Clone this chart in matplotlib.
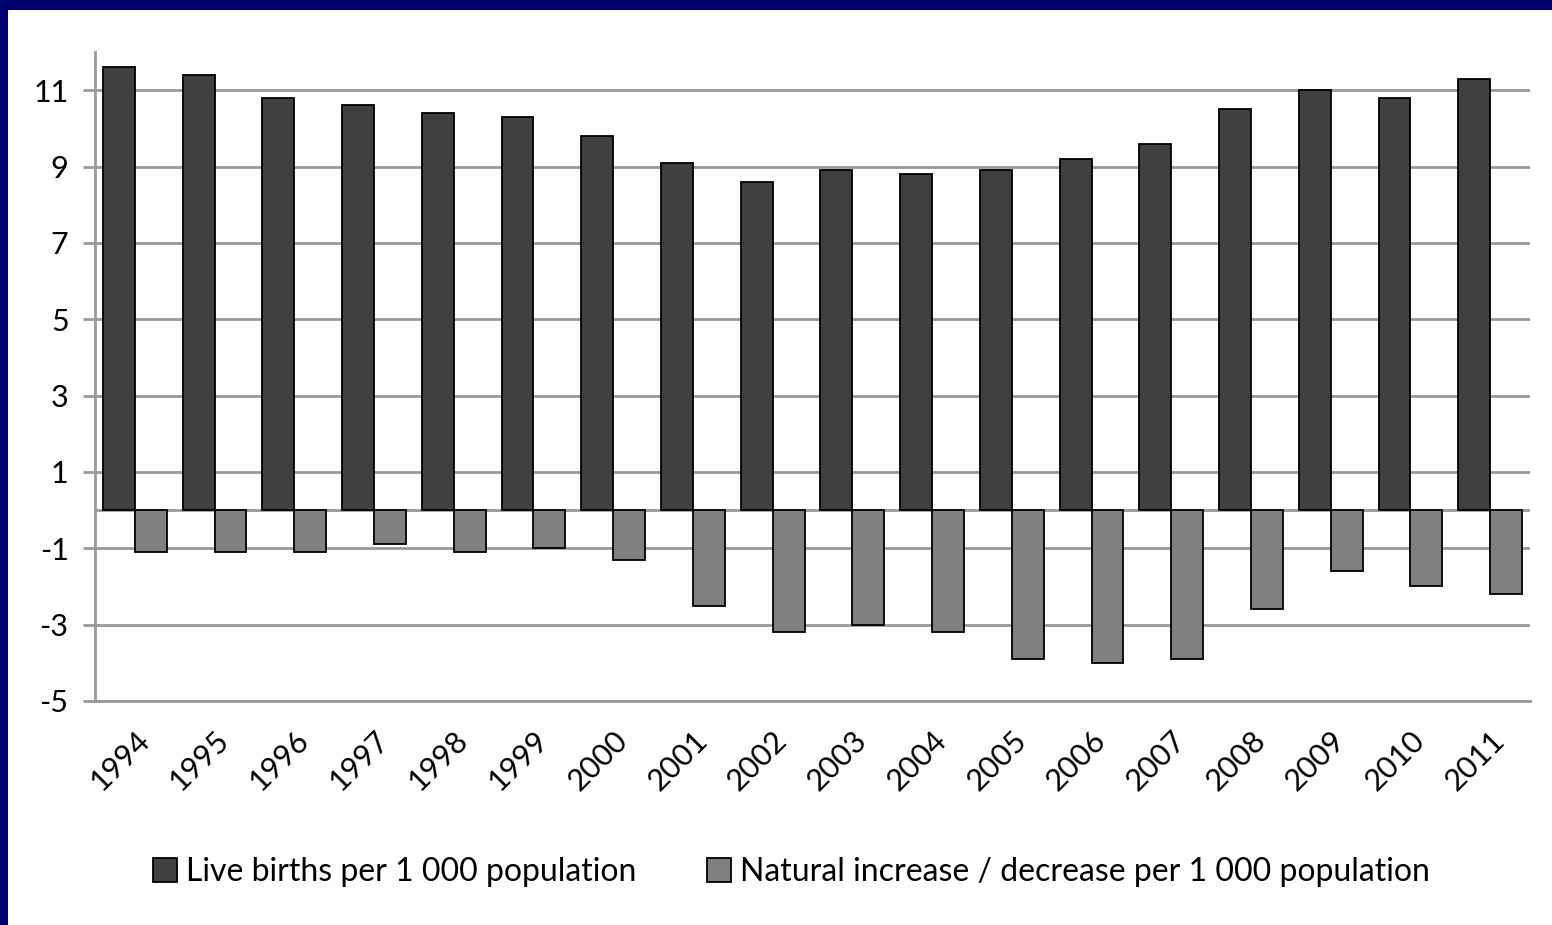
import matplotlib
matplotlib.use("Agg")
import matplotlib.pyplot as plt
import numpy as np
from matplotlib.patches import Rectangle

years = ['1994', '1995', '1996', '1997', '1998', '1999', '2000', '2001', '2002',
         '2003', '2004', '2005', '2006', '2007', '2008', '2009', '2010', '2011']
live_births = [11.6, 11.4, 10.8, 10.6, 10.4, 10.3, 9.8, 9.1, 8.6,
               8.9, 8.8, 8.9, 9.2, 9.6, 10.5, 11.0, 10.8, 11.3]
natural_change = [-1.1, -1.1, -1.1, -0.9, -1.1, -1.0, -1.3, -2.5, -3.2,
                  -3.0, -3.2, -3.9, -4.0, -3.9, -2.6, -1.6, -2.0, -2.2]
yticks = [-5, -3, -1, 1, 3, 5, 7, 9, 11]

plt.rcParams['font.family'] = ['Lato', 'DejaVu Sans']

fig = plt.figure(figsize=(15.52, 9.25), dpi=100)
fig.patch.set_facecolor('white')

# slide frame: dark blue strip on top and left
fig.add_artist(Rectangle((0, 1 - 10 / 925), 1, 10 / 925, transform=fig.transFigure,
                         facecolor='#000070', edgecolor='none', zorder=0))
fig.add_artist(Rectangle((0, 0), 8 / 1552, 1, transform=fig.transFigure,
                         facecolor='#000070', edgecolor='none', zorder=0))

ax = fig.add_axes([95 / 1552, 1 - 701 / 925, (1530 - 95) / 1552, (701 - 52) / 925])

x = np.arange(len(years))
w = 0.4
ax.bar(x - w / 2, live_births, w, color='#404040', edgecolor='black', linewidth=1.3,
       label='Live births per 1 000 population', zorder=3)
ax.bar(x + w / 2, natural_change, w, color='#808080', edgecolor='black', linewidth=1.3,
       label='Natural increase / decrease per 1 000 population', zorder=3)

ax.axhline(0, color='#999999', linewidth=2, zorder=2)
ax.set_ylim(-5, 12)
ax.set_xlim(-0.5, len(years) - 0.5)
ax.set_yticks(yticks)
ax.set_yticklabels([str(v) for v in yticks], fontsize=22)
ax.yaxis.grid(True, color='#999999', linewidth=2)
ax.set_axisbelow(True)

ax.set_xticks(x)
ax.set_xticklabels(years, rotation=45, ha='right', rotation_mode='anchor', fontsize=22)
ax.tick_params(axis='x', length=0, pad=18)
ax.tick_params(axis='y', length=9, width=2, color='#999999', pad=10)

for s in ['top', 'right']:
    ax.spines[s].set_visible(False)
for s in ['left', 'bottom']:
    ax.spines[s].set_color('#999999')
    ax.spines[s].set_linewidth(2)

fig.legend(loc='center', bbox_to_anchor=(0.51, 1 - 872 / 925), ncol=2, frameon=False,
           fontsize=23, handlelength=0.75, handleheight=0.8, handletextpad=0.3,
           columnspacing=2.2)

plt.savefig('out.png', dpi=100)
